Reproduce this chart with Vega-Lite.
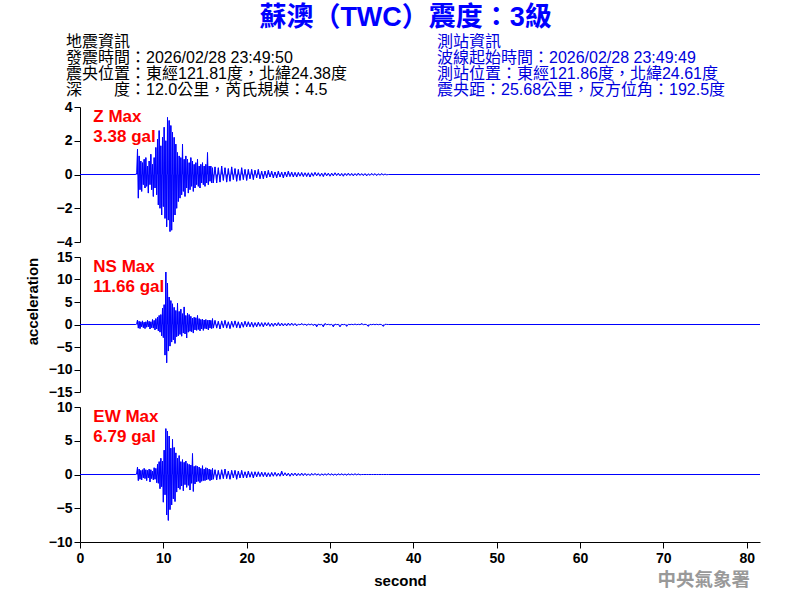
{
"$schema": "https://vega.github.io/schema/vega-lite/v6.json",
"background": "white",
"padding": {"left": 25, "top": 4, "right": 5, "bottom": 5},
"bounds": "flush",
"config": {
  "font": "Liberation Sans, Noto Sans CJK TC",
  "view": {"stroke": null},
  "axis": {"domainColor": "black", "tickColor": "black", "labelColor": "black", "titleColor": "black", "labelFontSize": 14, "labelFontWeight": "bold", "titleFontSize": 15, "titleFontWeight": "bold", "tickSize": 6, "labelPadding": 2, "grid": false, "domainWidth": 1, "tickWidth": 1, "labelOverlap": false, "labelFlush": false, "tickCount": 30, "format": "d"}
},
"title": {"text": "蘇澳（TWC）震度：3級", "fontSize": 27, "fontWeight": "bold", "color": "#0000ff", "anchor": "middle", "offset": 2, "dx": 12, "font": "Liberation Sans, Noto Sans CJK TC"},
"datasets": {
"info": [
{"block": "地震資訊", "line": 1, "text": "地震資訊"},
{"block": "地震資訊", "line": 2, "text": "發震時間：2026/02/28 23:49:50"},
{"block": "地震資訊", "line": 3, "text": "震央位置：東經121.81度，北緯24.38度"},
{"block": "地震資訊", "line": 4, "text": "深　　度：12.0公里，芮氏規模：4.5"},
{"block": "測站資訊", "line": 1, "text": "測站資訊"},
{"block": "測站資訊", "line": 2, "text": "波線起始時間：2026/02/28 23:49:49"},
{"block": "測站資訊", "line": 3, "text": "測站位置：東經121.86度，北緯24.61度"},
{"block": "測站資訊", "line": 4, "text": "震央距：25.68公里，反方位角：192.5度"}
],
"wave": [
{"t":0,"z":0,"n":0,"e":0},
{"t":6.7,"z":0,"n":0,"e":0},
{"t":6.8,"z":0.1,"n":0.2,"e":0.2},
{"t":6.9,"z":1.5,"n":1.0,"e":1.1},
{"t":7.0,"z":-1.4,"n":-0.8,"e":-0.9},
{"t":7.1,"z":1.1,"n":0.7,"e":0.8},
{"t":7.2,"z":-0.9,"n":-0.9,"e":-0.7},
{"t":7.3,"z":0.8,"n":0.6,"e":0.6},
{"t":7.4,"z":-1.0,"n":-0.5,"e":-0.8},
{"t":7.5,"z":0.7,"n":0.8,"e":0.7},
{"t":7.6,"z":-0.6,"n":-0.7,"e":-0.5},
{"t":7.7,"z":0.9,"n":0.5,"e":0.9},
{"t":7.8,"z":-0.8,"n":-0.9,"e":-0.6},
{"t":7.9,"z":1.0,"n":0.6,"e":0.7},
{"t":8.0,"z":-0.7,"n":-0.6,"e":-0.9},
{"t":8.1,"z":0.5,"n":0.9,"e":0.6},
{"t":8.2,"z":-1.1,"n":-0.5,"e":-0.5},
{"t":8.3,"z":0.8,"n":0.7,"e":0.8},
{"t":8.4,"z":-0.6,"n":-1.0,"e":-1.1},
{"t":8.5,"z":1.2,"n":0.6,"e":0.7},
{"t":8.6,"z":-0.9,"n":-0.7,"e":-0.6},
{"t":8.7,"z":0.6,"n":1.1,"e":0.5},
{"t":8.8,"z":-1.3,"n":-0.8,"e":-0.8},
{"t":8.9,"z":1.0,"n":0.9,"e":1.0},
{"t":9.0,"z":-0.8,"n":-1.2,"e":-0.7},
{"t":9.1,"z":1.6,"n":1.3,"e":0.9},
{"t":9.2,"z":-1.2,"n":-1.0,"e":-1.2},
{"t":9.3,"z":2.1,"n":1.6,"e":1.5},
{"t":9.4,"z":-1.8,"n":-1.4,"e":-1.3},
{"t":9.5,"z":2.6,"n":2.0,"e":1.9},
{"t":9.6,"z":-2.0,"n":-1.7,"e":-2.1},
{"t":9.7,"z":1.7,"n":2.2,"e":2.4},
{"t":9.8,"z":-2.4,"n":-2.5,"e":-1.8},
{"t":9.9,"z":2.2,"n":3.6,"e":2.0},
{"t":10.0,"z":-1.9,"n":-2.9,"e":-4.1},
{"t":10.1,"z":2.8,"n":4.4,"e":3.6},
{"t":10.2,"z":-2.6,"n":-6.8,"e":-3.0},
{"t":10.3,"z":2.0,"n":11.66,"e":6.79},
{"t":10.4,"z":-3.1,"n":-8.5,"e":-6.0},
{"t":10.5,"z":3.38,"n":9.2,"e":6.4},
{"t":10.6,"z":-2.7,"n":-5.9,"e":-6.8},
{"t":10.7,"z":3.2,"n":6.1,"e":5.7},
{"t":10.8,"z":-3.38,"n":-4.8,"e":-5.2},
{"t":10.9,"z":2.9,"n":5.3,"e":3.9},
{"t":11.0,"z":-3.3,"n":-3.9,"e":-4.5},
{"t":11.1,"z":2.5,"n":4.6,"e":5.2},
{"t":11.2,"z":-2.8,"n":-3.4,"e":-3.6},
{"t":11.3,"z":2.2,"n":3.8,"e":4.0},
{"t":11.4,"z":-2.4,"n":-4.2,"e":-4.0},
{"t":11.5,"z":1.8,"n":3.1,"e":3.2},
{"t":11.6,"z":-2.0,"n":-2.7,"e":-2.6},
{"t":11.7,"z":1.3,"n":4.7,"e":2.4},
{"t":11.8,"z":-1.6,"n":-2.5,"e":-2.0},
{"t":11.9,"z":1.1,"n":2.9,"e":2.8},
{"t":12.0,"z":-1.4,"n":-2.2,"e":-2.2},
{"t":12.1,"z":1.0,"n":3.4,"e":1.9},
{"t":12.2,"z":-1.2,"n":-2.6,"e":-1.7},
{"t":12.3,"z":1.8,"n":2.4,"e":2.2},
{"t":12.4,"z":-1.0,"n":-1.9,"e":-2.4},
{"t":12.5,"z":0.9,"n":3.9,"e":1.8},
{"t":12.6,"z":-1.3,"n":-2.1,"e":-1.5},
{"t":12.7,"z":1.1,"n":2.0,"e":2.0},
{"t":12.8,"z":-0.8,"n":-3.0,"e":-1.9},
{"t":12.9,"z":0.9,"n":2.5,"e":1.6},
{"t":13.0,"z":-1.1,"n":-1.7,"e":-1.6},
{"t":13.1,"z":0.7,"n":2.2,"e":1.5},
{"t":13.2,"z":-0.9,"n":-1.5,"e":-2.3},
{"t":13.3,"z":1.0,"n":1.8,"e":1.4},
{"t":13.4,"z":-0.7,"n":-1.6,"e":-1.3},
{"t":13.5,"z":0.8,"n":1.4,"e":3.1},
{"t":13.6,"z":-1.0,"n":-1.9,"e":-2.5},
{"t":13.7,"z":0.6,"n":1.6,"e":1.2},
{"t":13.8,"z":-0.8,"n":-1.2,"e":-1.4},
{"t":13.9,"z":0.7,"n":1.5,"e":1.3},
{"t":14.0,"z":-0.6,"n":-1.3,"e":-1.1},
{"t":14.1,"z":0.9,"n":2.0,"e":1.2},
{"t":14.2,"z":-0.7,"n":-1.1,"e":-1.0},
{"t":14.3,"z":0.5,"n":1.3,"e":1.1},
{"t":14.4,"z":-0.8,"n":-1.4,"e":-1.2},
{"t":14.5,"z":0.6,"n":1.1,"e":0.9},
{"t":14.6,"z":-0.5,"n":-1.0,"e":-1.0},
{"t":14.7,"z":0.7,"n":1.2,"e":1.3},
{"t":14.8,"z":-0.6,"n":-1.3,"e":-0.9},
{"t":14.9,"z":0.5,"n":1.0,"e":0.8},
{"t":15.0,"z":-0.7,"n":-0.9,"e":-0.9},
{"t":15.1,"z":0.6,"n":1.1,"e":1.0},
{"t":15.2,"z":-0.5,"n":-1.0,"e":-0.8},
{"t":15.3,"z":1.3,"n":0.9,"e":0.9},
{"t":15.4,"z":-0.6,"n":-1.2,"e":-0.7},
{"t":15.5,"z":0.5,"n":1.0,"e":0.8},
{"t":15.6,"z":-0.4,"n":-0.8,"e":-0.9},
{"t":15.7,"z":0.5,"n":0.9,"e":0.7},
{"t":15.8,"z":-0.5,"n":-0.9,"e":-0.8},
{"t":15.9,"z":0.4,"n":1.3,"e":0.9},
{"t":16.0,"z":-0.5,"n":-0.8,"e":-0.7},
{"t":16.2,"z":0.45,"n":0.9,"e":0.7},
{"t":16.4,"z":-0.5,"n":-0.8,"e":-0.8},
{"t":16.6,"z":0.4,"n":0.7,"e":0.6},
{"t":16.8,"z":-0.45,"n":-1.0,"e":-0.7},
{"t":17.0,"z":0.5,"n":0.8,"e":0.7},
{"t":17.2,"z":-0.35,"n":-0.7,"e":-0.6},
{"t":17.4,"z":0.4,"n":0.9,"e":0.8},
{"t":17.6,"z":-0.45,"n":-0.8,"e":-0.6},
{"t":17.8,"z":0.35,"n":0.6,"e":0.5},
{"t":18.0,"z":-0.4,"n":-0.9,"e":-0.7},
{"t":18.2,"z":0.45,"n":0.7,"e":0.6},
{"t":18.4,"z":-0.3,"n":-0.6,"e":-0.5},
{"t":18.6,"z":0.35,"n":0.8,"e":0.6},
{"t":18.8,"z":-0.4,"n":-0.7,"e":-0.7},
{"t":19.0,"z":0.3,"n":0.6,"e":0.5},
{"t":19.2,"z":-0.35,"n":-0.8,"e":-0.5},
{"t":19.4,"z":0.4,"n":0.5,"e":0.6},
{"t":19.6,"z":-0.3,"n":-0.6,"e":-0.5},
{"t":19.8,"z":0.3,"n":0.7,"e":0.4},
{"t":20.0,"z":-0.35,"n":-0.5,"e":-0.5},
{"t":20.2,"z":0.3,"n":0.6,"e":0.5},
{"t":20.4,"z":-0.25,"n":-0.5,"e":-0.4},
{"t":20.6,"z":0.3,"n":0.5,"e":0.4},
{"t":20.8,"z":-0.3,"n":-0.6,"e":-0.5},
{"t":21.0,"z":0.25,"n":0.4,"e":0.4},
{"t":21.2,"z":-0.2,"n":-0.5,"e":-0.35},
{"t":21.4,"z":0.3,"n":0.5,"e":0.4},
{"t":21.6,"z":-0.25,"n":-0.4,"e":-0.3},
{"t":21.8,"z":0.2,"n":0.4,"e":0.35},
{"t":22.0,"z":-0.25,"n":-0.5,"e":-0.3},
{"t":22.2,"z":0.2,"n":0.4,"e":0.3},
{"t":22.4,"z":-0.2,"n":-0.3,"e":-0.35},
{"t":22.6,"z":0.25,"n":0.4,"e":0.25},
{"t":22.8,"z":-0.15,"n":-0.4,"e":-0.3},
{"t":23.0,"z":0.2,"n":0.3,"e":0.3},
{"t":23.2,"z":-0.2,"n":-0.4,"e":-0.25},
{"t":23.4,"z":0.15,"n":0.3,"e":0.3},
{"t":23.6,"z":-0.2,"n":-0.3,"e":-0.25},
{"t":23.8,"z":0.2,"n":0.4,"e":0.2},
{"t":24.0,"z":-0.15,"n":-0.3,"e":-0.25},
{"t":24.2,"z":0.15,"n":0.3,"e":0.5},
{"t":24.4,"z":-0.2,"n":-0.3,"e":-0.2},
{"t":24.6,"z":0.15,"n":0.2,"e":0.25},
{"t":24.8,"z":-0.15,"n":-0.3,"e":-0.2},
{"t":25.0,"z":0.2,"n":0.3,"e":0.2},
{"t":25.2,"z":-0.12,"n":-0.2,"e":-0.25},
{"t":25.4,"z":0.15,"n":0.3,"e":0.2},
{"t":25.6,"z":-0.15,"n":-0.2,"e":-0.15},
{"t":25.8,"z":0.12,"n":0.2,"e":0.2},
{"t":26.0,"z":-0.15,"n":-0.3,"e":-0.2},
{"t":26.2,"z":0.12,"n":0.1,"e":0.15},
{"t":26.4,"z":-0.1,"n":-0.1,"e":-0.15},
{"t":26.6,"z":0.12,"n":0.2,"e":0.2},
{"t":26.8,"z":-0.12,"n":-0.1,"e":-0.15},
{"t":27.0,"z":0.1,"n":0.1,"e":0.15},
{"t":27.2,"z":-0.12,"n":-0.2,"e":-0.15},
{"t":27.4,"z":0.1,"n":0.1,"e":0.1},
{"t":27.6,"z":-0.15,"n":-0.1,"e":-0.15},
{"t":27.8,"z":0.1,"n":0.1,"e":0.15},
{"t":28.0,"z":-0.1,"n":-0.2,"e":-0.1},
{"t":28.2,"z":0.12,"n":0.1,"e":0.15},
{"t":28.4,"z":-0.08,"n":-0.5,"e":-0.1},
{"t":28.6,"z":0.1,"n":0.1,"e":0.1},
{"t":28.8,"z":-0.1,"n":-0.1,"e":-0.15},
{"t":29.0,"z":0.08,"n":0.05,"e":0.1},
{"t":29.2,"z":-0.12,"n":-0.5,"e":-0.1},
{"t":29.4,"z":0.1,"n":0.2,"e":0.1},
{"t":29.6,"z":-0.08,"n":-0.05,"e":-0.1},
{"t":29.8,"z":0.08,"n":0.05,"e":0.15},
{"t":30.0,"z":-0.1,"n":-0.1,"e":-0.1},
{"t":30.2,"z":0.08,"n":0.05,"e":0.1},
{"t":30.4,"z":-0.08,"n":-0.5,"e":-0.1},
{"t":30.6,"z":0.1,"n":0.1,"e":0.08},
{"t":30.8,"z":-0.06,"n":-0.05,"e":-0.1},
{"t":31.0,"z":0.08,"n":0.05,"e":0.1},
{"t":31.2,"z":-0.08,"n":-0.5,"e":-0.08},
{"t":31.4,"z":0.06,"n":0.05,"e":0.1},
{"t":31.6,"z":-0.1,"n":-0.05,"e":-0.08},
{"t":31.8,"z":0.06,"n":0.05,"e":0.08},
{"t":32.0,"z":-0.06,"n":-0.4,"e":-0.1},
{"t":32.2,"z":0.08,"n":0.05,"e":0.1},
{"t":32.4,"z":-0.06,"n":-0.05,"e":-0.08},
{"t":32.6,"z":0.06,"n":0.05,"e":0.08},
{"t":32.8,"z":-0.08,"n":-0.05,"e":-0.06},
{"t":33.0,"z":0.05,"n":0.1,"e":0.1},
{"t":33.2,"z":-0.06,"n":-0.05,"e":-0.06},
{"t":33.4,"z":0.08,"n":0.05,"e":0.08},
{"t":33.6,"z":-0.05,"n":-0.05,"e":-0.05},
{"t":33.8,"z":0.05,"n":0.2,"e":0},
{"t":34.0,"z":-0.06,"n":-0.05,"e":0},
{"t":34.2,"z":0.05,"n":0.05,"e":0},
{"t":34.4,"z":-0.08,"n":-0.05,"e":0},
{"t":34.6,"z":0.04,"n":-0.4,"e":0},
{"t":34.8,"z":-0.05,"n":0.05,"e":0},
{"t":35.0,"z":0.06,"n":-0.05,"e":0},
{"t":35.2,"z":-0.04,"n":0.05,"e":0},
{"t":35.4,"z":0.05,"n":-0.05,"e":0},
{"t":35.6,"z":-0.06,"n":0.05,"e":0},
{"t":35.8,"z":0.04,"n":-0.05,"e":0},
{"t":36.0,"z":-0.04,"n":0.05,"e":0},
{"t":36.2,"z":0.05,"n":-0.05,"e":0},
{"t":36.4,"z":-0.03,"n":-0.4,"e":0},
{"t":36.6,"z":0.03,"n":0.05,"e":0},
{"t":36.8,"z":-0.02,"n":0.02,"e":0},
{"t":37.0,"z":0,"n":0,"e":0},
{"t":81.6,"z":0,"n":0,"e":0}
]
},
"spacing": 15,
"vconcat": [
{
  "width": 680, "height": 58,
  "data": {"name": "info"},
  "mark": {"type": "text", "align": "left", "baseline": "middle", "fontSize": 16},
  "encoding": {
    "x": {"field": "block", "type": "nominal", "scale": {"type": "point", "domain": ["地震資訊", "測站資訊"], "range": [-14, 357], "padding": 0}, "axis": null},
    "y": {"field": "line", "type": "ordinal", "scale": {"type": "point", "range": [8, 56], "padding": 0}, "axis": null},
    "text": {"field": "text"},
    "color": {"field": "block", "type": "nominal", "scale": {"domain": ["地震資訊", "測站資訊"], "range": ["black", "#0000dd"]}, "legend": null}
  }
},
{
  "width": 680, "height": 135,
  "layer": [
    {"data": {"name": "wave"}, "mark": {"type": "rule", "color": "#0000ff", "strokeWidth": 1},
     "encoding": {
       "x": {"field": "t", "type": "quantitative", "scale": {"domain": [0, 81.6], "nice": false, "zero": false}, "axis": null},
       "y": {"field": "z", "type": "quantitative", "scale": {"domain": [-4, 4], "nice": false}, "axis": {"values": [-4, -2, 0, 2, 4], "tickCount": 30, "format": "d", "title": null}},
       "y2": {"datum": 0}
     }},
    {"data": {"name": "wave"}, "mark": {"type": "line", "color": "#0000ff", "strokeWidth": 1},
     "encoding": {
       "x": {"field": "t", "type": "quantitative"},
       "y": {"field": "z", "type": "quantitative"}
     }},
    {"data": {"values": [{"label": "Z Max\n3.38 gal"}]}, "mark": {"type": "text", "color": "red", "fontSize": 17, "fontWeight": "bold", "align": "left", "baseline": "top", "lineHeight": 20, "lineBreak": "\n"},
     "encoding": {"x": {"datum": 1.6}, "y": {"datum": 3.9}, "text": {"field": "label"}}}
  ]
},
{
  "width": 680, "height": 135,
  "layer": [
    {"data": {"name": "wave"}, "mark": {"type": "rule", "color": "#0000ff", "strokeWidth": 1},
     "encoding": {
       "x": {"field": "t", "type": "quantitative", "scale": {"domain": [0, 81.6], "nice": false, "zero": false}, "axis": null},
       "y": {"field": "n", "type": "quantitative", "scale": {"domain": [-15, 15], "nice": false}, "axis": {"values": [-15, -10, -5, 0, 5, 10, 15], "tickCount": 30, "format": "d", "title": "acceleration", "titlePadding": 8, "titleY": 44}},
       "y2": {"datum": 0}
     }},
    {"data": {"name": "wave"}, "mark": {"type": "line", "color": "#0000ff", "strokeWidth": 1},
     "encoding": {
       "x": {"field": "t", "type": "quantitative"},
       "y": {"field": "n", "type": "quantitative"}
     }},
    {"data": {"values": [{"label": "NS Max\n11.66 gal"}]}, "mark": {"type": "text", "color": "red", "fontSize": 17, "fontWeight": "bold", "align": "left", "baseline": "top", "lineHeight": 20, "lineBreak": "\n"},
     "encoding": {"x": {"datum": 1.6}, "y": {"datum": 14.6}, "text": {"field": "label"}}}
  ]
},
{
  "width": 680, "height": 135,
  "title": {"text": "中央氣象署", "orient": "bottom", "anchor": "end", "color": "#999999", "fontSize": 18.5, "fontWeight": "bold", "offset": -17, "dx": -12},
  "layer": [
    {"data": {"name": "wave"}, "mark": {"type": "rule", "color": "#0000ff", "strokeWidth": 1},
     "encoding": {
       "x": {"field": "t", "type": "quantitative", "scale": {"domain": [0, 81.6], "nice": false, "zero": false}, "axis": {"values": [0, 10, 20, 30, 40, 50, 60, 70, 80], "tickCount": 30, "format": "d", "title": "second", "labelPadding": 3, "titlePadding": 8, "titleX": 320}},
       "y": {"field": "e", "type": "quantitative", "scale": {"domain": [-10, 10], "nice": false}, "axis": {"values": [-10, -5, 0, 5, 10], "tickCount": 30, "format": "d", "title": null}},
       "y2": {"datum": 0}
     }},
    {"data": {"name": "wave"}, "mark": {"type": "line", "color": "#0000ff", "strokeWidth": 1},
     "encoding": {
       "x": {"field": "t", "type": "quantitative"},
       "y": {"field": "e", "type": "quantitative"}
     }},
    {"data": {"values": [{"label": "EW Max\n6.79 gal"}]}, "mark": {"type": "text", "color": "red", "fontSize": 17, "fontWeight": "bold", "align": "left", "baseline": "top", "lineHeight": 20, "lineBreak": "\n"},
     "encoding": {"x": {"datum": 1.6}, "y": {"datum": 9.75}, "text": {"field": "label"}}}
  ]
}
]
}
